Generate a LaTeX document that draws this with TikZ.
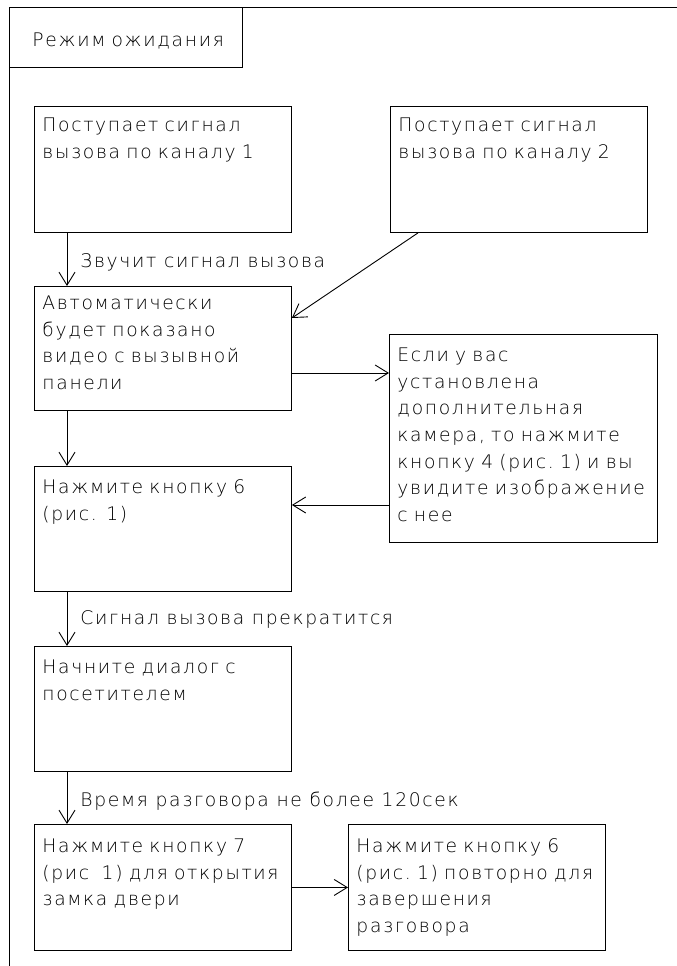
\documentclass[tikz,border=0pt]{standalone}
\usepackage{fontspec}
\setmainfont{DejaVu Sans ExtraLight}[LetterSpace=9]
\usetikzlibrary{arrows.meta}

\begin{document}
\begin{tikzpicture}[x=1pt, y=-1pt, line width=0.9pt,
    every node/.style={font=\fontsize{18.7}{26.7}\selectfont},
    box/.style={draw, anchor=north west, align=left, inner xsep=8pt, inner ysep=0pt, text width=241pt},
    lbl/.style={anchor=base west, inner sep=0pt},
    arr/.style={-{Straight Barb[length=13pt,width=16pt]}}]
    \useasboundingbox (0,0) rectangle (677,966);
    % frame of the mode
    \draw (9,966) -- (9,7) -- (677,7);
    \node[box, text width=187pt, inner xsep=23pt, text height=39pt, text depth=21pt] (mode) at (9,7) {Режим~ожидания};

    % boxes
    \node[box, text height=25pt, text depth=101pt] (ch1) at (34,106) {Поступает сигнал\\вызова по каналу 1};
    \node[box, text height=25pt, text depth=101pt] (ch2) at (390,106) {Поступает сигнал\\вызова по каналу 2};
    \node[box, text height=23pt, text depth=101pt] (video) at (34,286) {Автоматически\\будет показано\\видео~с~вызывной\\панели};
    \node[box, text width=252pt, text height=27pt, text depth=181pt] (extra) at (389,334) {Если у вас\\установлена\\дополнительная\\камера,~то~нажмите\\кнопку~4~(рис.~1)~и~вы\\увидите~изображение\\с нее};
    \node[box, text height=27pt, text depth=98pt] (key6) at (34,466) {Нажмите кнопку 6\\(рис. 1)};
    \node[box, text height=27pt, text depth=98pt] (talk) at (34,646) {Начните диалог с\\посетителем};
    \node[box, text height=28pt, text depth=98pt] (key7) at (34,824) {Нажмите кнопку 7\\(рис~~1)~для~открытия\\замка двери};
    \node[box, text height=28pt, text depth=98pt] (fin) at (348,824) {Нажмите кнопку 6\\(рис.~1)~повторно~для\\завершения\\разговора};

    % labels on the arrows
    \node[lbl] (ring) at (80,267) {Звучит сигнал вызова};
    \node[lbl] (stop) at (80,624) {Сигнал вызова прекратится};
    \node[lbl] (limit) at (80,806) {Время разговора не более 120сек};

    % arrows
    \draw[arr] ([xshift=33pt]ch1.south west) -- ([xshift=33pt]video.north west);
    \draw[arr] ([xshift=28pt]ch2.south west) -- ([yshift=-32pt]video.north east);
    \draw[arr] ([yshift=-87pt]video.north east) -- ([yshift=-87pt]video.north east -| extra.west);
    \draw[arr] ([xshift=33pt]video.south west) -- ([xshift=33pt]key6.north west);
    \draw[arr] ([yshift=-171pt]extra.north west) -- ([yshift=-171pt]extra.north west -| key6.east);
    \draw[arr] ([xshift=33pt]key6.south west) -- ([xshift=33pt]talk.north west);
    \draw[arr] ([xshift=33pt]talk.south west) -- ([xshift=33pt]key7.north west);
    \draw[arr] (key7.east) -- (fin.west);
\end{tikzpicture}
\end{document}
